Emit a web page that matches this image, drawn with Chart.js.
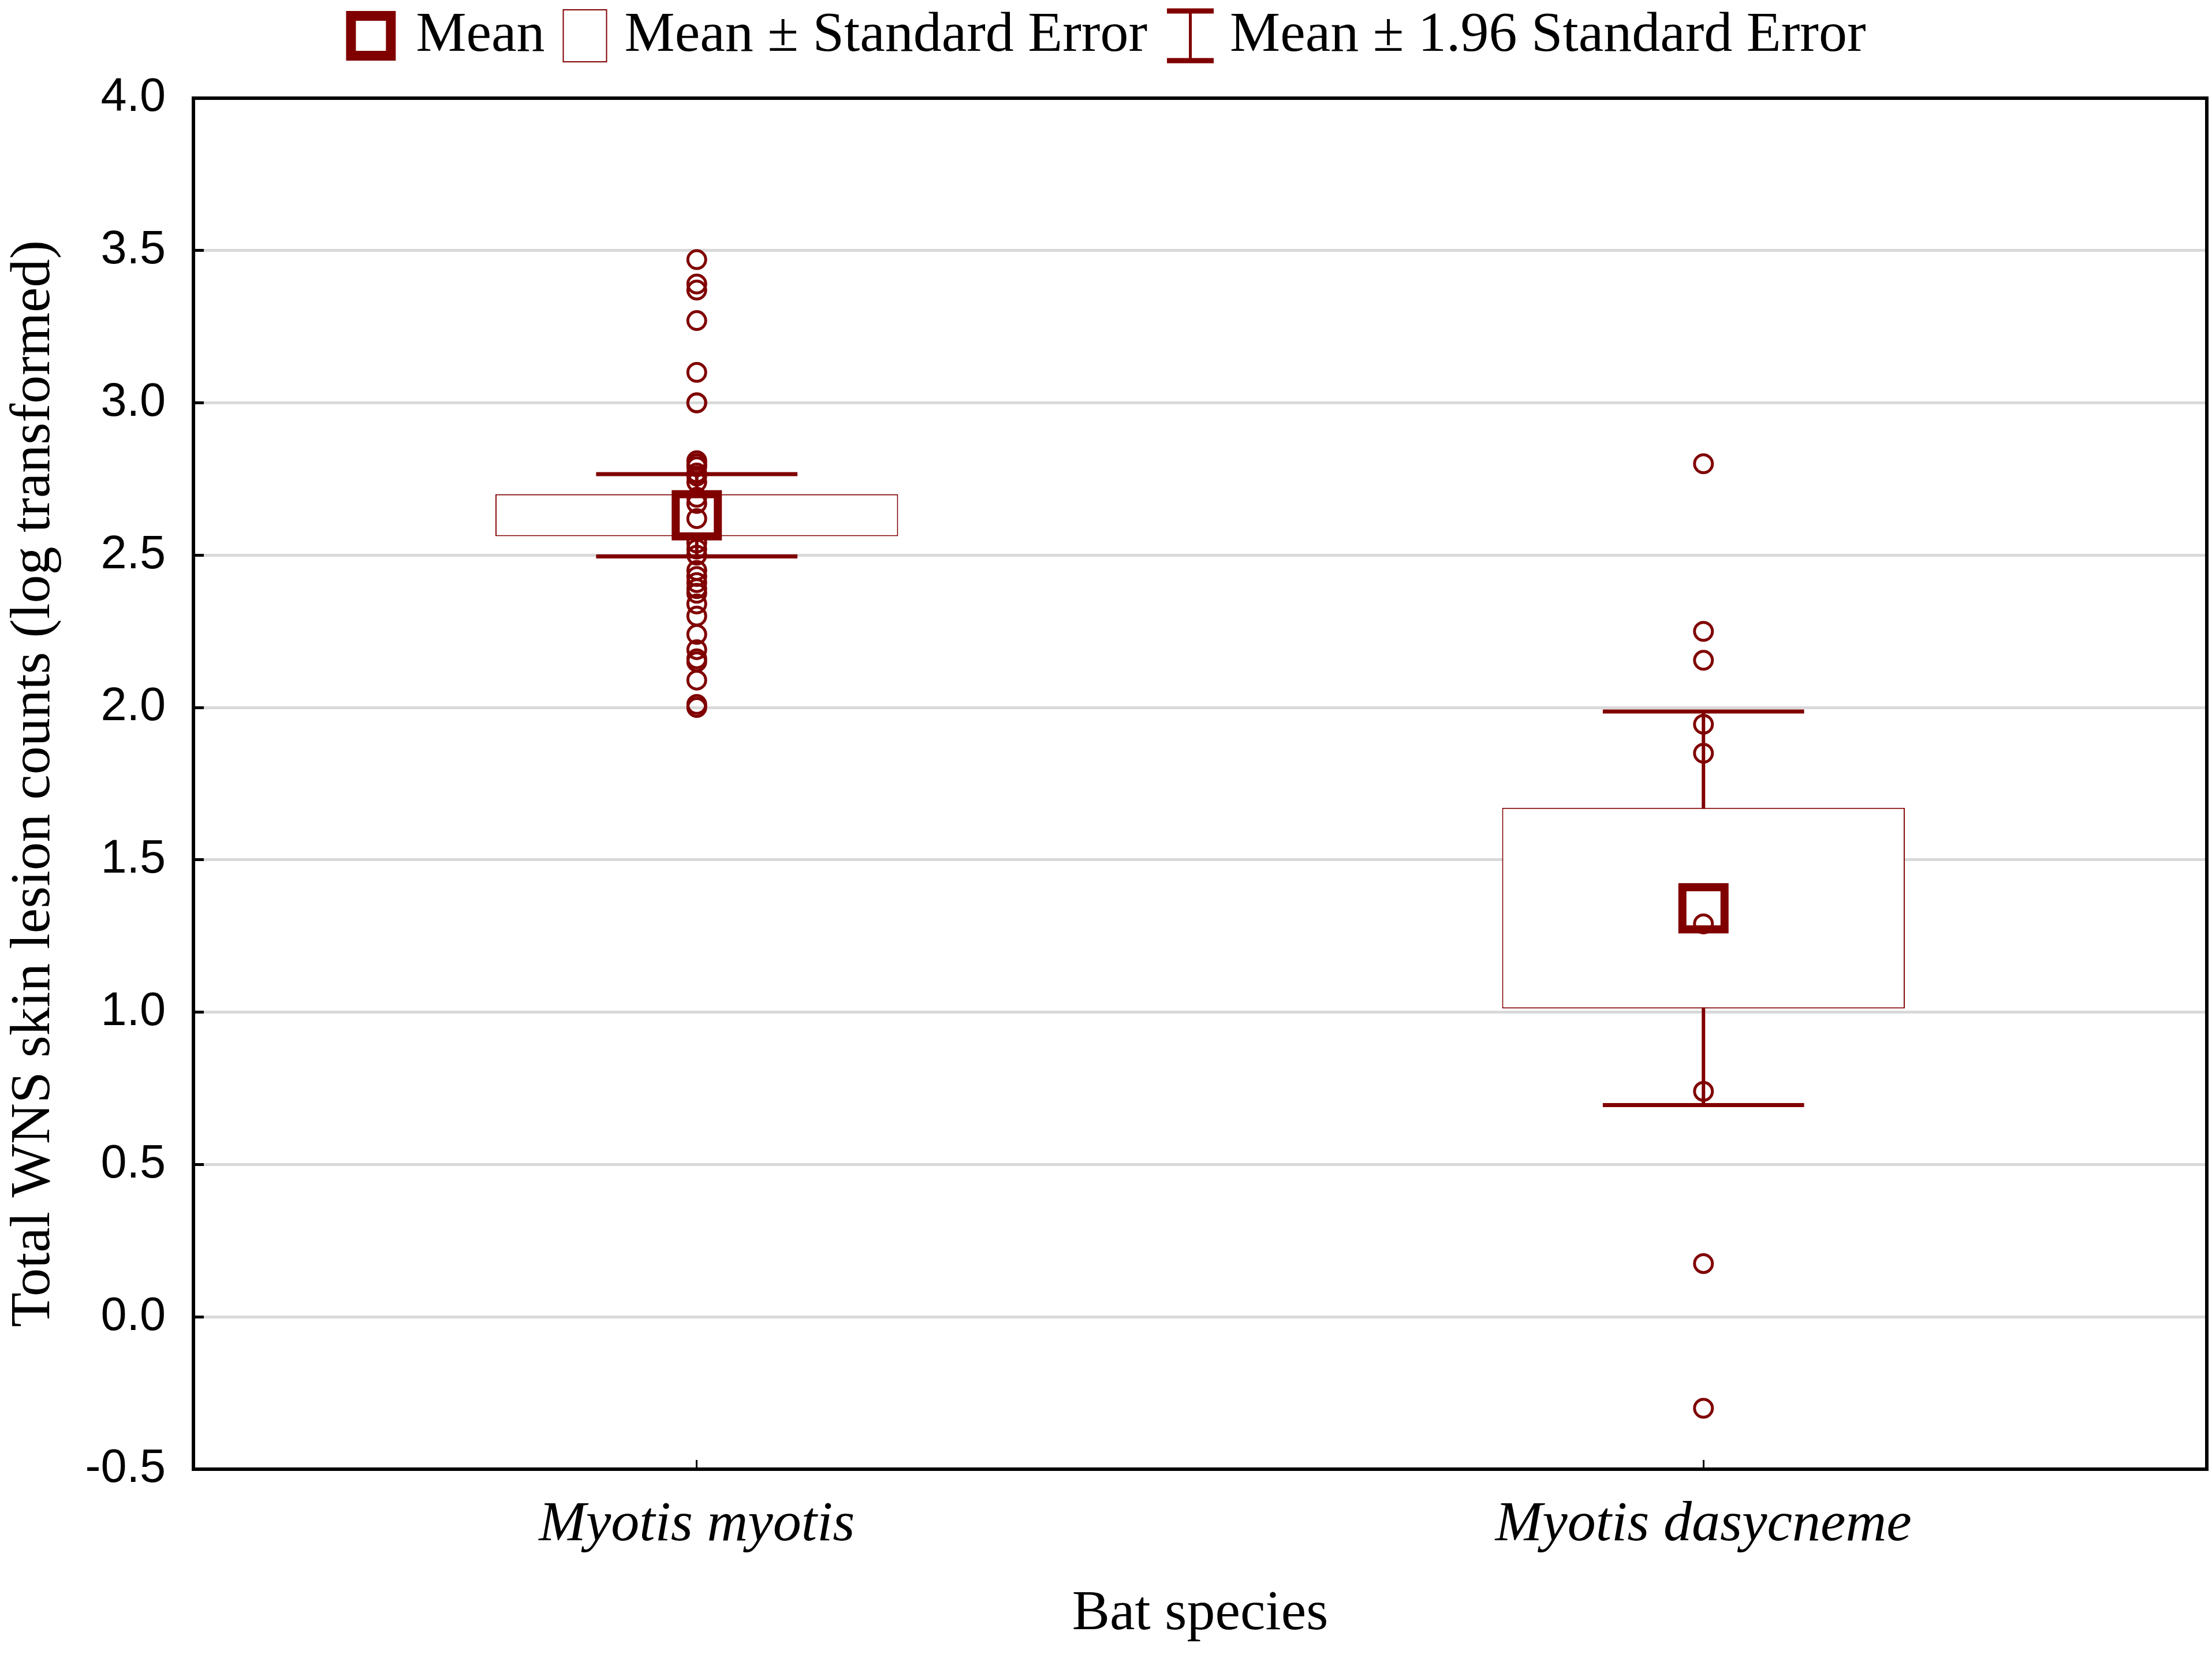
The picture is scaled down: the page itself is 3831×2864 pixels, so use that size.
<!DOCTYPE html>
<html>
<head>
<meta charset="utf-8">
<script src="https://cdn.jsdelivr.net/npm/chart.js@4.4.1/dist/chart.umd.min.js"></script>
<style>
html,body{margin:0;padding:0;background:#ffffff;}
canvas{display:block;}
</style>
</head>
<body>
<canvas id="c" width="3831" height="2864"></canvas>
<script>
// ---------------- DATA ----------------
const categories = ['Myotis myotis', 'Myotis dasycneme'];
const meanValues = [2.631, 1.341];
const seLow  = [2.562, 1.012];
const seHigh = [2.700, 1.671];
const ciLow  = [2.496, 0.695];
const ciHigh = [2.766, 1.987];
const myotisMyotisPoints = [3.47, 3.39, 3.37, 3.27, 3.10, 3.00, 3.00, 2.81, 2.80, 2.79, 2.77, 2.76, 2.74,
  2.69, 2.67, 2.62, 2.54, 2.52, 2.50, 2.45, 2.43, 2.41, 2.39, 2.375, 2.34, 2.30, 2.24, 2.19, 2.16, 2.15,
  2.09, 2.01, 2.00];
const myotisDasycnemePoints = [2.80, 2.25, 2.155, 1.945, 1.85, 1.29, 0.74, 0.175, -0.30];
const yMin = -0.5, yMax = 4.0, yStep = 0.5;
const legendLabels = ['Mean', 'Mean \u00B1 Standard Error', 'Mean \u00B1 1.96 Standard Error'];
const xTitle = 'Bat species';
const yTitle = 'Total WNS skin lesion counts (log transformed)';

// ---------------- STYLE ----------------
const RED = '#800000';
const SERIF = "'Liberation Serif', 'Times New Roman', serif";
const SANS = "'Liberation Sans', Arial, sans-serif";

const pointData = [];
myotisMyotisPoints.forEach(v => pointData.push({x: categories[0], y: v}));
myotisDasycnemePoints.forEach(v => pointData.push({x: categories[1], y: v}));

const whiskerPlugin = {
  id: 'whiskers',
  beforeDatasetsDraw(chart) {
    const {ctx, scales: {x, y}} = chart;
    const catW = x.getPixelForValue(1) - x.getPixelForValue(0);
    ctx.save();
    ctx.strokeStyle = RED;
    categories.forEach((c, i) => {
      const px = x.getPixelForValue(i);
      const yl = y.getPixelForValue(ciLow[i]);
      const yh = y.getPixelForValue(ciHigh[i]);
      ctx.lineWidth = 6;
      ctx.beginPath(); ctx.moveTo(px, yl); ctx.lineTo(px, yh); ctx.stroke();
      ctx.lineWidth = 7;
      const hw = catW * 0.1;
      ctx.beginPath(); ctx.moveTo(px - hw, yl); ctx.lineTo(px + hw, yl); ctx.stroke();
      ctx.beginPath(); ctx.moveTo(px - hw, yh); ctx.lineTo(px + hw, yh); ctx.stroke();
    });
    ctx.restore();
  }
};

const framePlugin = {
  id: 'frame',
  afterDraw(chart) {
    const {ctx, chartArea: a} = chart;
    ctx.save();
    ctx.strokeStyle = '#000';
    ctx.lineWidth = 6;
    ctx.strokeRect(a.left, a.top, a.right - a.left, a.bottom - a.top);
    ctx.restore();
  }
};

const legendPlugin = {
  id: 'customLegend',
  afterDraw(chart) {
    const ctx = chart.ctx;
    ctx.save();
    ctx.font = '98px ' + SERIF;
    ctx.fillStyle = '#000';
    ctx.textBaseline = 'middle';
    ctx.textAlign = 'left';
    const symW = [86, 77, 81];
    const gapAfterSym = [35, 30, 28];
    const gapAfterText = [31, 34, 0];
    const tw = legendLabels.map(t => ctx.measureText(t).width);
    let total = 0;
    for (let i = 0; i < 3; i++) total += symW[i] + gapAfterSym[i] + tw[i] + gapAfterText[i];
    let x = (chart.width - total) / 2;
    const cy = 62;
    for (let i = 0; i < 3; i++) {
      ctx.strokeStyle = RED;
      if (i === 0) {
        ctx.lineWidth = 17;
        ctx.strokeRect(x + 8.5, cy - 43 + 8.5, 69, 69);
      } else if (i === 1) {
        ctx.fillStyle = '#fff';
        ctx.fillRect(x, cy - 46, 77, 92);
        ctx.lineWidth = 2;
        ctx.strokeRect(x + 1, cy - 45, 75, 90);
        ctx.fillStyle = '#000';
      } else {
        const mx = x + symW[i] / 2;
        ctx.lineWidth = 5;
        ctx.beginPath(); ctx.moveTo(mx, cy - 46); ctx.lineTo(mx, cy + 46); ctx.stroke();
        ctx.lineWidth = 9;
        ctx.beginPath(); ctx.moveTo(x, cy - 43); ctx.lineTo(x + symW[i], cy - 43); ctx.stroke();
        ctx.beginPath(); ctx.moveTo(x, cy + 43); ctx.lineTo(x + symW[i], cy + 43); ctx.stroke();
      }
      x += symW[i] + gapAfterSym[i];
      ctx.fillStyle = '#000';
      ctx.fillText(legendLabels[i], x, cy);
      x += tw[i] + gapAfterText[i];
    }
    ctx.restore();
  }
};

new Chart(document.getElementById('c'), {
  type: 'bar',
  data: {
    labels: categories,
    datasets: [
      {
        type: 'line',
        label: 'Observations',
        data: pointData,
        showLine: false,
        pointStyle: 'circle',
        pointRadius: 15.5,
        pointHoverRadius: 15.5,
        pointBorderWidth: 5,
        pointBorderColor: RED,
        pointBackgroundColor: 'rgba(0,0,0,0)',
        order: 1
      },
      {
        type: 'line',
        label: legendLabels[0],
        data: meanValues,
        showLine: false,
        pointStyle: 'rect',
        pointRadius: 51.6,
        pointHoverRadius: 51.6,
        pointBorderWidth: 14,
        pointBorderColor: RED,
        pointBackgroundColor: 'rgba(0,0,0,0)',
        order: 2
      },
      {
        type: 'bar',
        label: legendLabels[1],
        data: categories.map((c, i) => [seLow[i], seHigh[i]]),
        backgroundColor: '#ffffff',
        borderColor: RED,
        borderWidth: 2,
        borderSkipped: false,
        barPercentage: 0.4,
        categoryPercentage: 1.0,
        order: 3
      }
    ]
  },
  options: {
    responsive: false,
    devicePixelRatio: 1,
    animation: false,
    events: [],
    layout: { autoPadding: false, padding: { top: 170, right: 9, bottom: 0, left: 0 } },
    plugins: {
      legend: { display: false },
      tooltip: { enabled: false },
      title: { display: false }
    },
    scales: {
      x: {
        type: 'category',
        offset: true,
        border: { display: false },
        grid: {
          display: true,
          offset: false,
          drawOnChartArea: false,
          drawTicks: true,
          tickLength: -16,
          tickColor: '#000',
          tickWidth: 3
        },
        ticks: {
          color: '#000',
          font: { family: SERIF, size: 98, style: 'italic' },
          padding: 54,
          maxRotation: 0,
          autoSkip: false
        },
        title: {
          display: true,
          text: xTitle,
          color: '#000',
          font: { family: SERIF, size: 98 },
          padding: { top: 0, bottom: 10 }
        },
        afterFit(scale) {
          scale.height = 320;
          scale.paddingLeft = 0;
          scale.paddingRight = 0;
        }
      },
      y: {
        type: 'linear',
        min: yMin,
        max: yMax,
        border: { display: false },
        grid: {
          color: '#d9d9d9',
          lineWidth: 5,
          drawTicks: true,
          tickLength: -18,
          tickColor: '#000',
          tickWidth: 5
        },
        ticks: {
          stepSize: yStep,
          color: '#000',
          font: { family: SANS, size: 81 },
          padding: 66,
          callback: v => Number(v).toFixed(1)
        },
        title: {
          display: true,
          text: yTitle,
          color: '#000',
          font: { family: SERIF, size: 98 },
          padding: { top: 0, bottom: 0 }
        },
        afterFit(scale) { scale.width = 335; }
      }
    }
  },
  plugins: [whiskerPlugin, framePlugin, legendPlugin]
});
</script>
</body>
</html>
